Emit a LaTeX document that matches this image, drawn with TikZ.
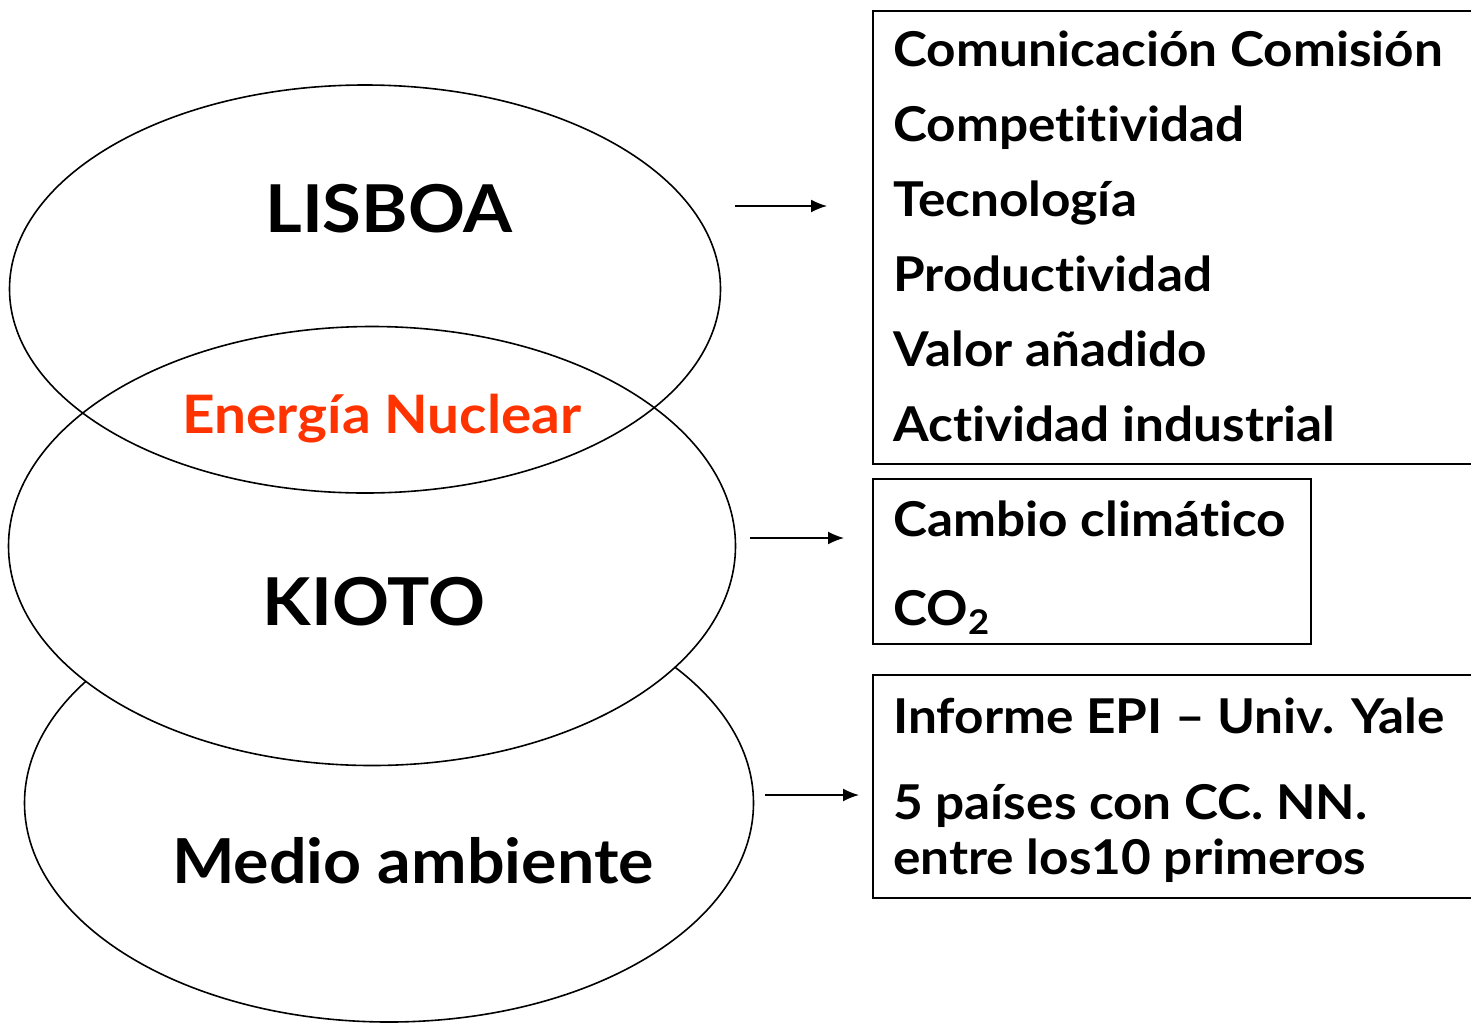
\documentclass[tikz,border=0pt]{standalone}
\usepackage{fontspec}
\setmainfont{Lato}[Ligatures=NoCommon, BoldFeatures={FakeStretch=1.07}]
\usetikzlibrary{shapes.geometric,arrows.meta}
\definecolor{nuclear}{HTML}{FF3300}
\tikzset{%
  >={Latex[width=6.5pt,length=8pt]},
  % Specifications for style of nodes:
       circulo/.style = {ellipse, draw=black, line width=0.8pt,
                         inner sep=0pt, outer sep=0pt},
        titulo/.style = {font=\fontsize{33}{36}\selectfont\bfseries,
                         anchor=base, inner sep=0pt},
          caja/.style = {rectangle, draw=black, line width=0.9pt,
                         anchor=north west, inner sep=0pt},
          item/.style = {font=\fontsize{24}{28}\selectfont\bfseries,
                         anchor=base west, inner sep=0pt},
        flecha/.style = {->, line width=0.8pt},
}

\begin{document}
\begin{tikzpicture}[x=0.5pt, y=-0.5pt]
                    \useasboundingbox (0,0) rectangle (1471,1023);
                    \clip (0,0) rectangle (1471,1023);
                    % ellipses, back to front
                    \node (medio)   [circulo, fill=white, minimum width=364.5pt, minimum height=219pt] at (389,803) {};
                    \node (kioto)   [circulo, fill=white, minimum width=363.5pt, minimum height=219.5pt] at (372,546) {};
                    \node (lisboa)  [circulo, minimum width=355.5pt, minimum height=204pt] at (365,289) {};

                    \node (tlisboa)  [titulo] at (389,232) {LISBOA};
                    \node (tnuclear) [titulo, font=\fontsize{26.5}{30}\selectfont\bfseries, text=nuclear] at (382,433) {Energía Nuclear};
                    \node (tkioto)   [titulo] at (374,625) {KIOTO};
                    \node (tmedio)   [titulo, font=\fontsize{31}{36}\selectfont\bfseries] at (413,883) {Medio ambiente};

                    % boxes
                    \node (caja1) [caja, minimum width=314pt, minimum height=226.5pt] at (872,10) {};
                    \node (caja2) [caja, minimum width=219pt, minimum height=82.5pt] at (872,478) {};
                    \node (caja3) [caja, minimum width=314pt, minimum height=111.5pt] at (872,674) {};

                    \node (comunicacion) [item] at (893,66)  {Comunicación Comisión};
                    \node (competit)     [item] at (893,141) {Competitividad};
                    \node (tecnologia)   [item] at (893,216) {Tecnología};
                    \node (productiv)    [item] at (893,291) {Productividad};
                    \node (valor)        [item] at (893,366) {Valor añadido};
                    \node (actividad)    [item] at (893,441) {Actividad industrial};

                    \node (cambio)   [item] at (893,536) {Cambio climático};
                    \node (co2)      [item] at (893,625) {CO\raisebox{-0.4ex}{\fontsize{17}{17}\selectfont 2}};

                    \node (informe)  [item] at (893,733) {Informe EPI – Univ. Yale};
                    \node (paises)   [item] at (893,819) {5 países con CC. NN.};
                    \node (entre)    [item] at (893,874) {entre los10 primeros};

                    % arrows
                    \coordinate (a1) at (735,206);  \coordinate (b1) at (827,206);
                    \coordinate (a2) at (750,538);  \coordinate (b2) at (844,538);
                    \coordinate (a3) at (765,795);  \coordinate (b3) at (859,795);
                    \draw[flecha] (a1) -- (b1);
                    \draw[flecha] (a2) -- (b2);
                    \draw[flecha] (a3) -- (b3);
                \end{tikzpicture}
\end{document}
